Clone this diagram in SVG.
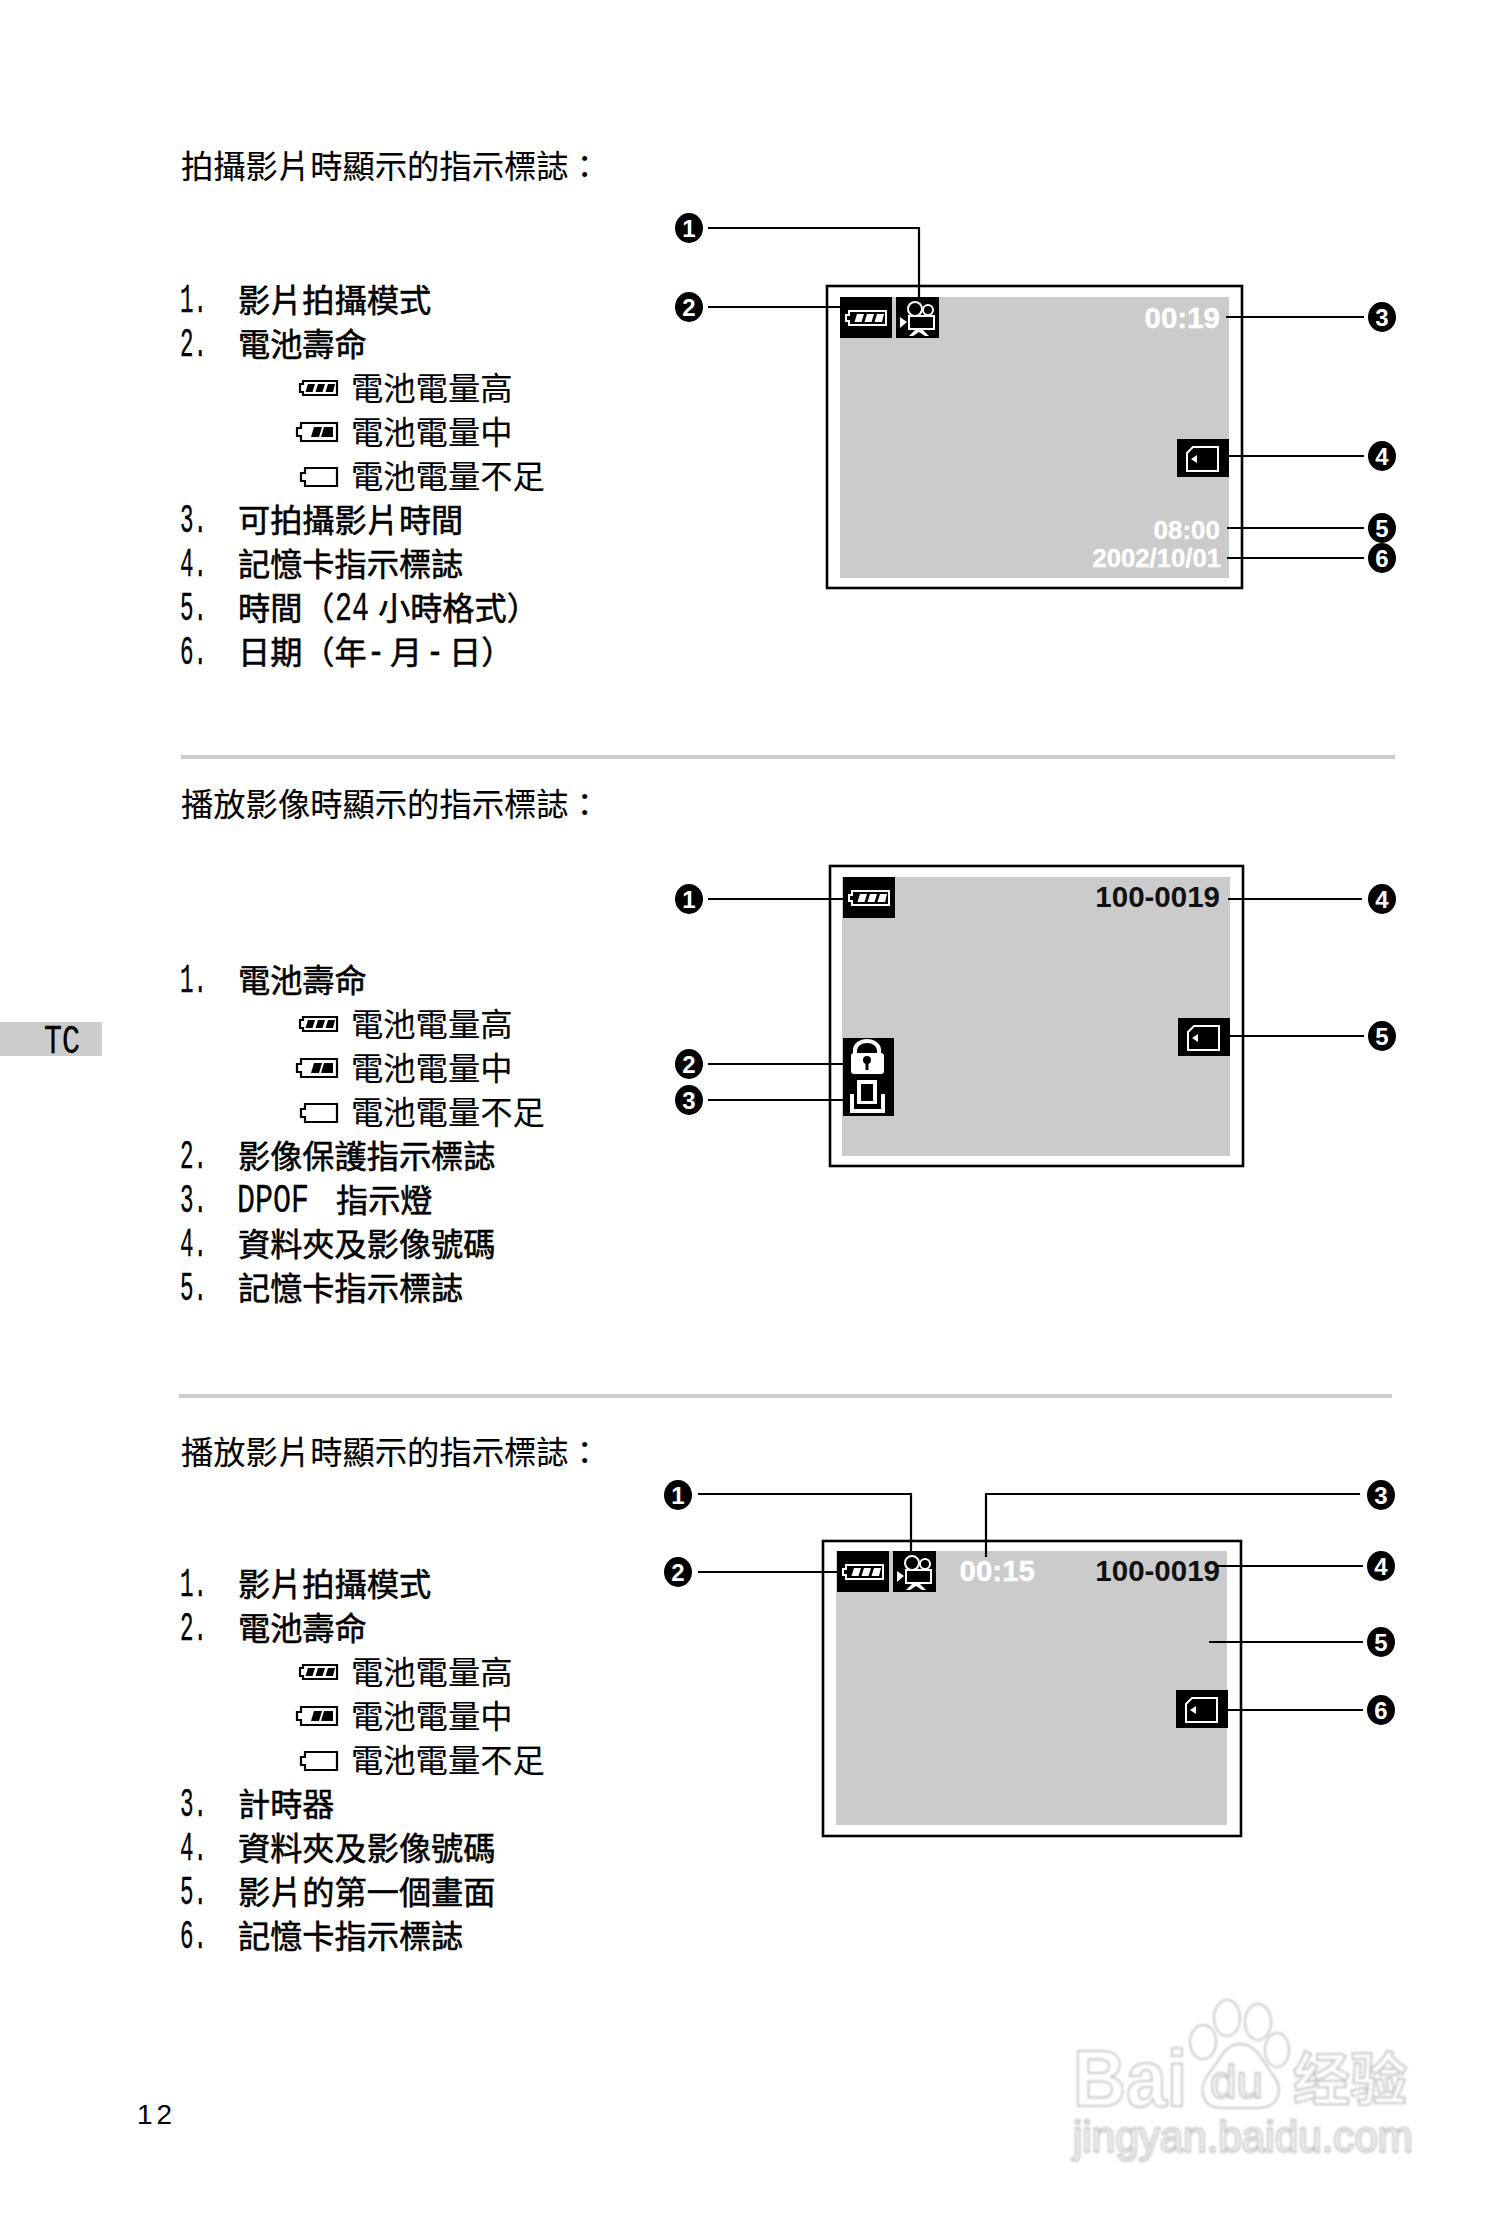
<svg xmlns="http://www.w3.org/2000/svg" xmlns:xlink="http://www.w3.org/1999/xlink" width="1508" height="2224" viewBox="0 0 1508 2224">
<style>
text{font-family:"Noto Sans CJK TC","Noto Sans CJK SC",sans-serif;fill:#000}
.h,.s{font-size:32.300px;stroke:#111;stroke-width:.15px}
.i{font-size:32.200px;stroke:#000;stroke-width:.55px}
.m{font-family:"Liberation Mono",monospace;font-size:40px;stroke:#000;stroke-width:.3px}
.o{font-family:"Liberation Sans",Arial,sans-serif;font-weight:700;font-size:29.500px;text-anchor:end}
.w{fill:#fff;stroke:#fff;stroke-width:.4px}.k{fill:#111}
.n{font-family:"Liberation Sans",Arial,sans-serif;font-weight:700;font-size:24px;fill:#fff;text-anchor:middle}
.f{fill:#fff;stroke:#000;stroke-width:2.6}
.g{fill:#cbcbcb}.b{fill:#000}
.c{fill:none;stroke:#000;stroke-width:2.2}
.r{fill:#ccc}
.t{fill:none;stroke:#fff;stroke-width:2}
.x{fill:#fff}
.wm{fill:#fff;stroke:#c8c8c8;stroke-width:2;font-family:"Liberation Sans",Arial,sans-serif;font-weight:700}
</style>
<defs>
<filter id="soft" x="-5%" y="-5%" width="110%" height="110%"><feGaussianBlur stdDeviation=".8"/></filter>
<g id="bars"><path d="M10 3H17L14.500 11H7.500ZM20 3H27L24.500 11H17.500ZM30 3H37L35 11H27.500Z"/></g>
<g id="battbox"><rect class="b" width="52" height="41"/><path class="t" d="M9 14H46V28H9V24H6V18H9Z"/><g class="x" transform="translate(7 14)"><use xlink:href="#bars"/></g></g>
<g id="cambox"><rect class="b" width="43" height="41"/><circle class="t" cx="19" cy="12" r="7" stroke-width="2.400"/><circle class="t" cx="32" cy="13" r="5" stroke-width="2.400"/><rect class="t" x="13" y="19" width="25" height="13" stroke-width="2.400"/><path class="x" d="M4 20L11 25L4 31ZM19 33H27L33 39H29L23 35L17 39H13Z"/></g>
<g id="cardbox"><rect class="b" width="52" height="38"/><path class="t" d="M16 8H41V32H10V14Z"/><path class="x" d="M14 20L20 16V24Z"/></g>
</defs>

<g id="tab"><rect class="r" y="1022" width="102" height="34"/><text class="m" x="44" y="1053" textLength="36" lengthAdjust="spacingAndGlyphs">TC</text></g>
<g id="separators"><rect class="r" x="181" y="755" width="1214" height="4"/><rect class="r" x="179" y="1394" width="1213" height="4"/></g>

<g id="section1-text">
<text class="h" x="181" y="178">拍攝影片時顯示的指示標誌：</text>
<text class="m" x="180" y="312" textLength="27" lengthAdjust="spacingAndGlyphs">1.</text><text class="i" x="238" y="312">影片拍攝模式</text>
<text class="m" x="180" y="356" textLength="27" lengthAdjust="spacingAndGlyphs">2.</text><text class="i" x="238" y="356">電池壽命</text>
<text class="s" x="351" y="400">電池電量高</text>
<text class="s" x="351" y="444">電池電量中</text>
<text class="s" x="351" y="488">電池電量不足</text>
<text class="m" x="180" y="532" textLength="27" lengthAdjust="spacingAndGlyphs">3.</text><text class="i" x="238" y="532">可拍攝影片時間</text>
<text class="m" x="180" y="576" textLength="27" lengthAdjust="spacingAndGlyphs">4.</text><text class="i" x="238" y="576">記憶卡指示標誌</text>
<text class="m" x="180" y="620" textLength="27" lengthAdjust="spacingAndGlyphs">5.</text><text class="i" x="238" y="620">時間（</text><text class="m" x="335" y="620" textLength="34" lengthAdjust="spacingAndGlyphs">24</text><text class="i" x="378" y="620">小時格式）</text>
<text class="m" x="180" y="664" textLength="27" lengthAdjust="spacingAndGlyphs">6.</text><text class="i" x="238" y="664">日期（年</text><text class="m" x="367" y="664" textLength="18" lengthAdjust="spacingAndGlyphs">-</text><text class="i" x="390" y="664">月</text><text class="m" x="426" y="664" textLength="18" lengthAdjust="spacingAndGlyphs">-</text><text class="i" x="449" y="664">日）</text>
</g>
<g id="legend1">
<g transform="translate(299 381)"><path class="c" d="M4 0H38V14H4V11H1V3H4Z"/><use xlink:href="#bars" transform="translate(-1 0)"/></g>
<g transform="translate(296 423)"><path class="c" d="M5 0H41V18H5V13H1V5H5Z"/><path d="M18 4H26L23 14H15ZM28 4H37V14H25Z"/></g>
<g transform="translate(300 468)"><path class="c" d="M5 0H37V18H5V13H1V5H5Z"/></g>
</g>

<g id="screen1">
<rect class="f" x="827" y="286" width="415" height="302"/>
<rect class="g" x="840" y="297" width="389" height="281"/>
<use xlink:href="#battbox" x="840" y="297"/><use xlink:href="#cambox" x="896" y="297"/><use xlink:href="#cardbox" x="1177" y="439"/>
<text class="o w" x="1220" y="328">00:19</text>
<text class="o w" x="1220" y="539" style="font-size:26px">08:00</text>
<text class="o w" x="1221" y="567" style="font-size:25.700px">2002/10/01</text>
</g>
<g id="m1-1"><ellipse cx="689" cy="228" rx="14" ry="15"/><text class="n" x="689" y="237">1</text></g>
<g id="m1-2"><ellipse cx="689" cy="307" rx="14" ry="15"/><text class="n" x="689" y="316">2</text></g>
<g id="m1-3"><ellipse cx="1382" cy="317" rx="14" ry="15"/><text class="n" x="1382" y="326">3</text></g>
<g id="m1-4"><ellipse cx="1382" cy="456" rx="14" ry="15"/><text class="n" x="1382" y="465">4</text></g>
<g id="m1-5"><ellipse cx="1382" cy="528" rx="14" ry="15"/><text class="n" x="1382" y="537">5</text></g>
<g id="m1-6"><ellipse cx="1382" cy="558" rx="14" ry="15"/><text class="n" x="1382" y="567">6</text></g>

<g id="section2-text">
<text class="h" x="181" y="816">播放影像時顯示的指示標誌：</text>
<text class="m" x="180" y="992" textLength="27" lengthAdjust="spacingAndGlyphs">1.</text><text class="i" x="238" y="992">電池壽命</text>
<text class="s" x="351" y="1036">電池電量高</text>
<text class="s" x="351" y="1080">電池電量中</text>
<text class="s" x="351" y="1124">電池電量不足</text>
<text class="m" x="180" y="1168" textLength="27" lengthAdjust="spacingAndGlyphs">2.</text><text class="i" x="238" y="1168">影像保護指示標誌</text>
<text class="m" x="180" y="1212" textLength="27" lengthAdjust="spacingAndGlyphs">3.</text><text class="m" x="237" y="1212" textLength="72" lengthAdjust="spacingAndGlyphs">DPOF</text><text class="i" x="336" y="1212">指示燈</text>
<text class="m" x="180" y="1256" textLength="27" lengthAdjust="spacingAndGlyphs">4.</text><text class="i" x="238" y="1256">資料夾及影像號碼</text>
<text class="m" x="180" y="1300" textLength="27" lengthAdjust="spacingAndGlyphs">5.</text><text class="i" x="238" y="1300">記憶卡指示標誌</text>
</g>
<g id="legend2">
<g transform="translate(299 1017)"><path class="c" d="M4 0H38V14H4V11H1V3H4Z"/><use xlink:href="#bars" transform="translate(-1 0)"/></g>
<g transform="translate(296 1059)"><path class="c" d="M5 0H41V18H5V13H1V5H5Z"/><path d="M18 4H26L23 14H15ZM28 4H37V14H25Z"/></g>
<g transform="translate(300 1104)"><path class="c" d="M5 0H37V18H5V13H1V5H5Z"/></g>
</g>

<g id="screen2">
<rect class="f" x="830" y="866" width="413" height="300"/>
<rect class="g" x="842" y="877" width="388" height="279"/>
<use xlink:href="#battbox" x="843" y="877"/><use xlink:href="#cardbox" x="1178" y="1018"/>
<rect class="b" x="843" y="1038" width="51" height="78"/>
<path d="M855 1056V1050A12 9 0 0 1 879 1050V1056" fill="none" stroke="#fff" stroke-width="4"/>
<rect class="x" x="851" y="1053" width="33" height="21" rx="3"/><circle class="b" cx="867" cy="1060" r="4"/><rect class="b" x="865.500" y="1060" width="3" height="10"/>
<rect class="x" x="857" y="1080" width="20" height="24"/><rect class="b" x="861" y="1084" width="12" height="17"/>
<path class="t" d="M852 1094V1111H883V1094" style="stroke-width:4"/>
<text class="o k" x="1220" y="907">100-0019</text>
</g>
<g id="m2-1"><ellipse cx="689" cy="899" rx="14" ry="15"/><text class="n" x="689" y="908">1</text></g>
<g id="m2-2"><ellipse cx="689" cy="1064" rx="14" ry="15"/><text class="n" x="689" y="1073">2</text></g>
<g id="m2-3"><ellipse cx="689" cy="1100" rx="14" ry="15"/><text class="n" x="689" y="1109">3</text></g>
<g id="m2-4"><ellipse cx="1382" cy="899" rx="14" ry="15"/><text class="n" x="1382" y="908">4</text></g>
<g id="m2-5"><ellipse cx="1382" cy="1036" rx="14" ry="15"/><text class="n" x="1382" y="1045">5</text></g>

<g id="section3-text">
<text class="h" x="181" y="1464">播放影片時顯示的指示標誌：</text>
<text class="m" x="180" y="1596" textLength="27" lengthAdjust="spacingAndGlyphs">1.</text><text class="i" x="238" y="1596">影片拍攝模式</text>
<text class="m" x="180" y="1640" textLength="27" lengthAdjust="spacingAndGlyphs">2.</text><text class="i" x="238" y="1640">電池壽命</text>
<text class="s" x="351" y="1684">電池電量高</text>
<text class="s" x="351" y="1728">電池電量中</text>
<text class="s" x="351" y="1772">電池電量不足</text>
<text class="m" x="180" y="1816" textLength="27" lengthAdjust="spacingAndGlyphs">3.</text><text class="i" x="238" y="1816">計時器</text>
<text class="m" x="180" y="1860" textLength="27" lengthAdjust="spacingAndGlyphs">4.</text><text class="i" x="238" y="1860">資料夾及影像號碼</text>
<text class="m" x="180" y="1904" textLength="27" lengthAdjust="spacingAndGlyphs">5.</text><text class="i" x="238" y="1904">影片的第一個畫面</text>
<text class="m" x="180" y="1948" textLength="27" lengthAdjust="spacingAndGlyphs">6.</text><text class="i" x="238" y="1948">記憶卡指示標誌</text>
</g>
<g id="legend3">
<g transform="translate(299 1665)"><path class="c" d="M4 0H38V14H4V11H1V3H4Z"/><use xlink:href="#bars" transform="translate(-1 0)"/></g>
<g transform="translate(296 1707)"><path class="c" d="M5 0H41V18H5V13H1V5H5Z"/><path d="M18 4H26L23 14H15ZM28 4H37V14H25Z"/></g>
<g transform="translate(300 1752)"><path class="c" d="M5 0H37V18H5V13H1V5H5Z"/></g>
</g>

<g id="screen3">
<rect class="f" x="823" y="1541" width="418" height="295"/>
<rect class="g" x="836" y="1551" width="391" height="274"/>
<use xlink:href="#battbox" x="837" y="1551"/><use xlink:href="#cambox" x="893" y="1551"/><use xlink:href="#cardbox" x="1176" y="1690"/>
<text class="o w" x="1035" y="1581">00:15</text>
<text class="o k" x="1220" y="1581">100-0019</text>
</g>
<g id="m3-1"><ellipse cx="678" cy="1495" rx="14" ry="15"/><text class="n" x="678" y="1504">1</text></g>
<g id="m3-2"><ellipse cx="678" cy="1572" rx="14" ry="15"/><text class="n" x="678" y="1581">2</text></g>
<g id="m3-3"><ellipse cx="1381" cy="1495" rx="14" ry="15"/><text class="n" x="1381" y="1504">3</text></g>
<g id="m3-4"><ellipse cx="1381" cy="1566" rx="14" ry="15"/><text class="n" x="1381" y="1575">4</text></g>
<g id="m3-5"><ellipse cx="1381" cy="1642" rx="14" ry="15"/><text class="n" x="1381" y="1651">5</text></g>
<g id="m3-6"><ellipse cx="1381" cy="1710" rx="14" ry="15"/><text class="n" x="1381" y="1719">6</text></g>

<g id="connectors">
<path class="c" d="M708 228H919V297M708 307H840M1226 317H1364M1228 456H1364M1227 528H1364M1227 558H1364"/>
<path class="c" d="M708 899H843M708 1064H850M708 1100H850M1228 899H1362M1230 1036H1364"/>
<path class="c" d="M698 1494H911V1551M698 1572H837M1360 1494H986V1557M1216 1566H1363M1209 1642H1363M1227 1710H1363"/>
</g>

<g id="page"><text x="137" y="2124" style="font-family:'Liberation Sans',Arial,sans-serif;font-size:28px;letter-spacing:4px">12</text></g>

<g id="watermark" filter="url(#soft)">
<text class="wm" x="1073" y="2106" font-size="80" textLength="114" lengthAdjust="spacingAndGlyphs">Bai</text>
<ellipse class="wm" cx="1203" cy="2042" rx="13" ry="17"/><ellipse class="wm" cx="1227" cy="2018" rx="13" ry="18"/><ellipse class="wm" cx="1258" cy="2022" rx="13" ry="18"/><ellipse class="wm" cx="1277" cy="2050" rx="12" ry="17"/>
<path class="wm" d="M1240 2044C1225 2044 1220 2060 1210 2072C1198 2086 1200 2108 1222 2108H1258C1280 2108 1284 2088 1272 2074C1262 2060 1256 2044 1240 2044Z"/>
<text class="wm" x="1210" y="2098" font-size="46" textLength="53" lengthAdjust="spacingAndGlyphs" style="font-weight:400">du</text>
<text class="wm" x="1293" y="2100" font-size="57" style="font-family:'Noto Sans CJK SC',sans-serif;font-weight:700">经验</text>
<text class="wm" x="1073" y="2152" font-size="44" textLength="340" lengthAdjust="spacingAndGlyphs" style="font-weight:400">jingyan.baidu.com</text>
</g>
</svg>
